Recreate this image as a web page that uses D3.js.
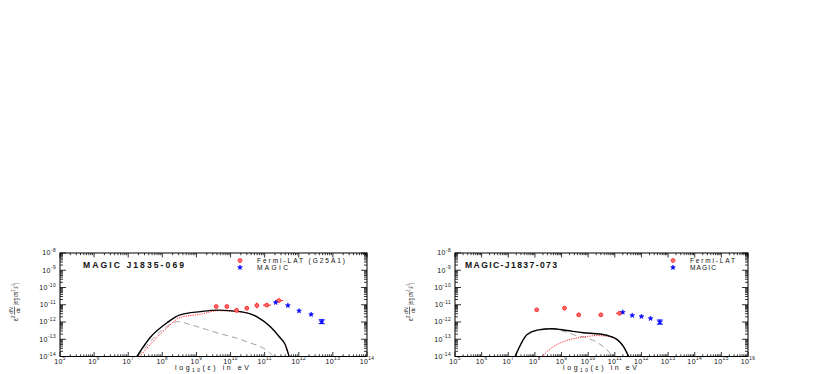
<!DOCTYPE html>
<html>
<head>
<meta charset="utf-8">
<script src="https://cdn.jsdelivr.net/npm/d3@7"></script>
<style>
  body { margin: 0; background: #fff; }
  svg text { font-family: "Liberation Sans", Arial, sans-serif; fill: #111; }
</style>
</head>
<body>
<div id="chart"></div>
<script>
const WIDTH = 830;
const HEIGHT = 374;

// ---- MAGIC J1835-069 ----
// [energy eV, flux, fluxLo, fluxHi, eLo, eHi]
const j1835Fermi = [
  [3.8e9, 7.9e-12, 6.8e-12, 9.2e-12, null, null],
  [7.8e9, 7.9e-12, 6.8e-12, 9.2e-12, null, null],
  [1.5e10, 4.7e-12, 3.6e-12, 6.2e-12, null, null],
  [3.0e10, 6.3e-12, 4.7e-12, 8.4e-12, null, null],
  [5.9e10, 9.1e-12, 6.2e-12, 1.35e-11, null, null],
  [1.15e11, 9.5e-12, 8.5e-12, 1.05e-11, 8.9e10, 1.55e11],
  [2.6e11, 1.75e-11, 1.6e-11, 1.9e-11, 2.1e11, 3.5e11]
];
const j1835Magic = [
  [2.1e11, 1.35e-11, null, null],
  [4.8e11, 9.1e-12, null, null],
  [1.02e12, 4.4e-12, null, null],
  [2.3e12, 2.75e-12, null, null],
  [4.7e12, 1.05e-12, 0.8e-12, 1.35e-12]
];
const j1835Total = [
  [1.8e7, 1e-14], [4.4e7, 1.26e-13], [1.38e8, 9.1e-13], [3.3e8, 2.6e-12],
  [1.29e9, 4.0e-12], [4.3e9, 4.9e-12], [1.9e10, 4.0e-12], [6.0e10, 2.0e-12],
  [1.45e11, 5.4e-13], [2.8e11, 1.26e-13], [4.0e11, 4.9e-14], [5.2e11, 1e-14]
];
const j1835Pion = [
  [2.2e7, 1e-14], [4.4e7, 4.9e-14], [1.38e8, 4.7e-13], [3.3e8, 1.8e-12],
  [1.29e9, 2.8e-12], [4.3e9, 4.5e-12], [1.9e10, 3.8e-12], [6.0e10, 2.0e-12],
  [1.45e11, 5.2e-13], [2.8e11, 1.2e-13], [4.0e11, 4.7e-14], [5.2e11, 1e-14]
];
const j1835IC = [
  [1.95e7, 1e-14], [4.4e7, 7.2e-14], [1.2e8, 4.7e-13], [2.9e8, 1.05e-12],
  [6.5e8, 7.1e-13], [3.1e9, 2.75e-13], [3.0e10, 7.2e-14], [1.26e11, 1.95e-14],
  [1.8e11, 1e-14]
];

// ---- MAGIC-J1837-073 ----
const j1837Fermi = [
  [1.17e8, 5.1e-12, null, null, null, null],
  [1.29e9, 6.3e-12, null, null, null, null],
  [4.4e9, 2.6e-12, null, null, null, null],
  [3.0e10, 2.6e-12, null, null, null, null],
  [1.5e11, 3.2e-12, 2.9e-12, 3.5e-12, 1.1e11, 2.0e11]
];
const j1837Magic = [
  [2.0e11, 3.7e-12, null, null],
  [4.5e11, 2.4e-12, null, null],
  [1.0e12, 2.1e-12, null, null],
  [2.2e12, 1.6e-12, null, null],
  [4.9e12, 1.0e-12, 0.75e-12, 1.3e-12]
];
const j1837Total = [
  [1.8e7, 1e-14], [5.1e7, 1.86e-13], [1.2e8, 3.4e-13], [4.5e8, 4.1e-13],
  [1.6e9, 3.2e-13], [6.5e9, 2.4e-13], [2.8e10, 2.0e-13], [6.8e10, 1.48e-13],
  [1.23e11, 9.5e-14], [2.1e11, 3.9e-14], [3.3e11, 1e-14]
];
const j1837Pion = [
  [1.86e8, 1e-14], [2.9e8, 1.95e-14], [5.8e8, 4.3e-14], [1.48e9, 8.3e-14],
  [5.0e9, 1.26e-13], [2.2e10, 1.62e-13], [6.8e10, 1.41e-13], [1.23e11, 8.9e-14],
  [2.1e11, 3.8e-14], [3.3e11, 1e-14]
];
const j1837IC = [
  [1.8e7, 1e-14], [5.1e7, 1.82e-13], [1.2e8, 3.2e-13], [4.5e8, 3.9e-13],
  [1.15e9, 2.95e-13], [2.75e9, 1.86e-13], [9.1e9, 1.17e-13], [2.2e10, 6.5e-14],
  [4.4e10, 2.9e-14], [8.7e10, 1e-14]
];

const yDomain = [1e-14, 1e-8];

const panels = [
  { id: "l", left: 60, right: 367, top: 253, bottom: 356.5, xMax: 1e14,
    title: "MAGIC J1835-069", titleX: 83, titleW: 101,
    fermiLabel: "Fermi-LAT (G25A1)", fermiW: 88, magicW: 31, legendX: 240,
    yLabelX: 16, xLabelX: 212,
    fermi: j1835Fermi, magic: j1835Magic, total: j1835Total, pion: j1835Pion, ic: j1835IC },
  { id: "r", left: 455, right: 748, top: 253, bottom: 356.5, xMax: 1e16,
    title: "MAGIC-J1837-073", titleX: 465, titleW: 92,
    fermiLabel: "Fermi-LAT", fermiW: 45, magicW: 26, legendX: 673,
    yLabelX: 411, xLabelX: 600,
    fermi: j1837Fermi, magic: j1837Magic, total: j1837Total, pion: j1837Pion, ic: j1837IC }
];

var svg = d3.select("div#chart").append("svg")
    .attr("width", WIDTH)
    .attr("height", HEIGHT);

const isMajor = t => Math.abs(Math.log10(t) - Math.round(Math.log10(t))) < 1e-6;
const RED = "#ff2a2a";
const BLUE = "#0000ff";

function powLabel(sel, exp, big, small) {
  sel.append("tspan").attr("font-size", big).text("10");
  sel.append("tspan").attr("font-size", small).attr("dy", -3.2).text(exp);
}

function drawPanel(p) {
  var x = d3.scaleLog([1e5, p.xMax], [p.left, p.right]);
  var y = d3.scaleLog(yDomain, [p.bottom, p.top]);
  var g = svg.append("g").attr("class", "panel-" + p.id);

  g.append("clipPath").attr("id", "clip-" + p.id)
    .append("rect")
      .attr("x", p.left).attr("y", p.top)
      .attr("width", p.right - p.left).attr("height", p.bottom - p.top);

  // ticks
  var xt = x.ticks(60).filter(d => d >= 1e5 && d <= p.xMax);
  var yt = y.ticks(60);
  var ticks = g.append("g").attr("stroke", "#000").attr("stroke-width", 0.8);
  ticks.selectAll("line.xb").data(xt).join("line").attr("class", "xb")
    .attr("x1", d => x(d)).attr("x2", d => x(d))
    .attr("y1", p.bottom).attr("y2", d => p.bottom - (isMajor(d) ? 4.5 : 2.2));
  ticks.selectAll("line.xt").data(xt).join("line").attr("class", "xt")
    .attr("x1", d => x(d)).attr("x2", d => x(d))
    .attr("y1", p.top).attr("y2", d => p.top + (isMajor(d) ? 4.5 : 2.2));
  ticks.selectAll("line.yl").data(yt).join("line").attr("class", "yl")
    .attr("y1", d => y(d)).attr("y2", d => y(d))
    .attr("x1", p.left).attr("x2", d => p.left + (isMajor(d) ? 6 : 3));
  ticks.selectAll("line.yr").data(yt).join("line").attr("class", "yr")
    .attr("y1", d => y(d)).attr("y2", d => y(d))
    .attr("x1", p.right).attr("x2", d => p.right - (isMajor(d) ? 6 : 3));

  // tick labels
  g.selectAll("text.xlab").data(xt.filter(isMajor)).join("text").attr("class", "xlab")
    .attr("x", d => x(d)).attr("y", p.bottom + 7)
    .attr("text-anchor", "middle").attr("letter-spacing", 0.4)
    .each(function(d) { powLabel(d3.select(this), Math.round(Math.log10(d)), 7, 4.8); });
  g.selectAll("text.ylab").data(yt.filter(isMajor)).join("text").attr("class", "ylab")
    .attr("x", p.left - 4).attr("y", d => y(d) + 2.4)
    .attr("text-anchor", "end").attr("letter-spacing", 0.4)
    .each(function(d) { powLabel(d3.select(this), Math.round(Math.log10(d)), 7, 4.8); });

  // frame
  g.append("rect")
    .attr("x", p.left).attr("y", p.top)
    .attr("width", p.right - p.left).attr("height", p.bottom - p.top)
    .attr("fill", "none").attr("stroke", "#000").attr("stroke-width", 1);

  // model curves
  const lineFunc = d3.line()
    .x(d => x(d[0]))
    .y(d => y(d[1]))
    .curve(d3.curveMonotoneX);
  var curves = g.append("g").attr("clip-path", "url(#clip-" + p.id + ")").attr("fill", "none");
  curves.append("path").attr("d", lineFunc(p.ic))
    .attr("stroke", "#888").attr("stroke-width", 0.8).attr("stroke-dasharray", "6,4");
  curves.append("path").attr("d", lineFunc(p.pion))
    .attr("stroke", "#ff0000").attr("stroke-width", 1).attr("stroke-dasharray", "1,1.3");
  curves.append("path").attr("d", lineFunc(p.total))
    .attr("stroke", "#000").attr("stroke-width", 1.4);

  // Fermi points
  var fp = g.append("g").attr("stroke", RED).attr("stroke-width", 1);
  fp.selectAll("line.ey").data(p.fermi.filter(d => d[2] !== null)).join("line")
    .attr("x1", d => x(d[0])).attr("x2", d => x(d[0]))
    .attr("y1", d => y(d[2])).attr("y2", d => y(d[3]));
  fp.selectAll("line.ex").data(p.fermi.filter(d => d[4] !== null)).join("line")
    .attr("y1", d => y(d[1])).attr("y2", d => y(d[1]))
    .attr("x1", d => x(d[4])).attr("x2", d => x(d[5]));
  fp.selectAll("circle").data(p.fermi).join("circle")
    .attr("cx", d => x(d[0])).attr("cy", d => y(d[1])).attr("r", 1.9)
    .attr("fill", "#ff7070");

  // MAGIC points
  var mp = g.append("g").attr("stroke", BLUE).attr("stroke-width", 1);
  var withErr = p.magic.filter(d => d[2] !== null);
  mp.selectAll("line.ey").data(withErr).join("line")
    .attr("x1", d => x(d[0])).attr("x2", d => x(d[0]))
    .attr("y1", d => y(d[2])).attr("y2", d => y(d[3]));
  mp.selectAll("line.cap1").data(withErr).join("line")
    .attr("x1", d => x(d[0]) - 3).attr("x2", d => x(d[0]) + 3)
    .attr("y1", d => y(d[2])).attr("y2", d => y(d[2]));
  mp.selectAll("line.cap2").data(withErr).join("line")
    .attr("x1", d => x(d[0]) - 3).attr("x2", d => x(d[0]) + 3)
    .attr("y1", d => y(d[3])).attr("y2", d => y(d[3]));
  g.selectAll("path.magic").data(p.magic).join("path").attr("class", "magic")
    .attr("transform", d => `translate(${x(d[0])},${y(d[1])})`)
    .attr("d", d3.symbol(d3.symbolStar, 7))
    .attr("fill", BLUE).attr("stroke", BLUE).attr("stroke-width", 0.6);

  // title
  g.append("text").attr("x", p.titleX).attr("y", 267.5)
    .attr("font-size", 8.6).attr("font-weight", "bold")
    .attr("textLength", p.titleW).attr("lengthAdjust", "spacing")
    .text(p.title);

  // legend
  g.append("circle").attr("cx", p.legendX).attr("cy", 260.5).attr("r", 2)
    .attr("fill", "#ff7070").attr("stroke", RED).attr("stroke-width", 0.8);
  g.append("path").attr("transform", `translate(${p.legendX},267.5)`)
    .attr("d", d3.symbol(d3.symbolStar, 7)).attr("fill", BLUE)
    .attr("stroke", BLUE).attr("stroke-width", 0.6);
  g.append("text").attr("x", p.legendX + 17).attr("y", 262.8)
    .attr("font-size", 6.6).attr("textLength", p.fermiW).attr("lengthAdjust", "spacing")
    .text(p.fermiLabel);
  g.append("text").attr("x", p.legendX + 17).attr("y", 269.8)
    .attr("font-size", 6.6).attr("textLength", p.magicW).attr("lengthAdjust", "spacing")
    .text("MAGIC");

  // x axis title
  var xl = g.append("text").attr("x", p.xLabelX - 37).attr("y", 370)
    .attr("font-size", 7).attr("textLength", 74).attr("lengthAdjust", "spacing");
  xl.append("tspan").text("log");
  xl.append("tspan").attr("font-size", 4.8).attr("dy", 2).text("10");
  xl.append("tspan").attr("dy", -2).text("(ε)  in eV");

  // y axis title
  var yl = g.append("g").attr("transform", `translate(${p.yLabelX},301) rotate(-90)`)
    .attr("font-size", 6.5);
  var t1 = yl.append("text").attr("x", -20).attr("y", 2);
  t1.append("tspan").text("ε");
  t1.append("tspan").attr("font-size", 4.5).attr("dy", -3).text("2");
  yl.append("text").attr("x", -9.5).attr("y", -3).attr("text-anchor", "middle").attr("font-size", 5.2).text("dN");
  yl.append("line").attr("x1", -13.5).attr("x2", -5.5).attr("y1", -1.5).attr("y2", -1.5)
    .attr("stroke", "#111").attr("stroke-width", 0.6);
  yl.append("text").attr("x", -9.5).attr("y", 4).attr("text-anchor", "middle").attr("font-size", 5.2).text("dε");
  var t2 = yl.append("text").attr("x", -4).attr("y", 2)
    .attr("textLength", 22).attr("lengthAdjust", "spacingAndGlyphs");
  t2.append("tspan").text("(erg cm");
  t2.append("tspan").attr("font-size", 4.5).attr("dy", -3).text("-2");
  t2.append("tspan").attr("dy", 3).text(" s");
  t2.append("tspan").attr("font-size", 4.5).attr("dy", -3).text("-1");
  t2.append("tspan").attr("dy", 3).text(")");
}

panels.forEach(drawPanel);
</script>
</body>
</html>
